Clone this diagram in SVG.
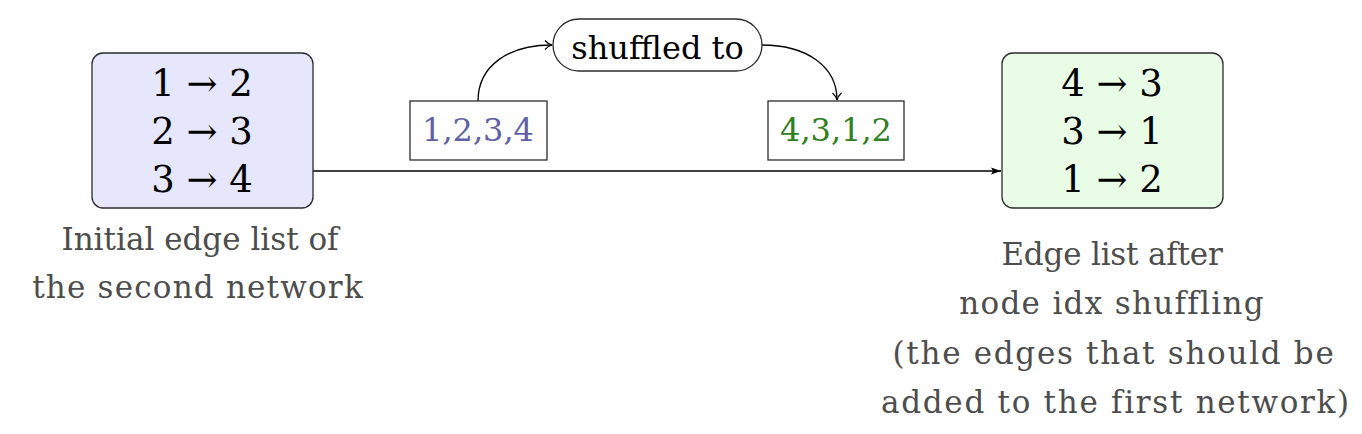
<svg xmlns="http://www.w3.org/2000/svg" width="1362" height="434" viewBox="0 0 1362 434">
<style>
  text { font-family: "DejaVu Serif", "Liberation Serif", serif; }
  .box { stroke: #2b2b2b; stroke-width: 1.3; }
  .lst { font-size: 37px; fill: #000; text-anchor: middle; }
  .cap { font-size: 31px; fill: #4d4d4d; text-anchor: middle; }
  .conn { fill: none; stroke: #000; stroke-width: 1.3; }
</style>
<defs>
  <marker id="open" markerWidth="12" markerHeight="12" refX="9" refY="6" orient="auto" markerUnits="userSpaceOnUse">
    <path d="M2,1.5 Q5,5 9,6 Q5,7 2,10.5" fill="none" stroke="#000" stroke-width="1.2"/>
  </marker>
  <marker id="solid" markerWidth="12" markerHeight="12" refX="10" refY="6" orient="auto" markerUnits="userSpaceOnUse">
    <path d="M0,2.5 L10,6 L0,9.5 L2,6 Z" fill="#000"/>
  </marker>
</defs>

<g id="connectors">
  <path class="conn" d="M313,171 L1001,171" marker-end="url(#solid)"/>
  <path class="conn" d="M478,101 C478,66 508,45 552,45" marker-end="url(#open)"/>
  <path class="conn" d="M762,45 C806,45 837,66 837,100" marker-end="url(#open)"/>
</g>

<g id="initial">
  <rect class="box" x="92" y="53" width="221" height="155" rx="11" fill="#e6e6fc"/>
  <text class="lst" x="202" y="96">1 → 2</text>
  <text class="lst" x="202" y="144">2 → 3</text>
  <text class="lst" x="202" y="192">3 → 4</text>
</g>

<g id="shuffled">
  <rect class="box" x="1002" y="53" width="221" height="155" rx="11" fill="#e8fce6"/>
  <text class="lst" x="1112" y="96">4 → 3</text>
  <text class="lst" x="1112" y="144">3 → 1</text>
  <text class="lst" x="1112" y="192">1 → 2</text>
</g>

<g id="orig-order">
  <rect class="box" x="410" y="101" width="137" height="59" fill="#fff"/>
  <text x="478" y="141" font-size="32" fill="#6060a8" text-anchor="middle">1,2,3,4</text>
</g>

<g id="new-order">
  <rect class="box" x="768" y="101" width="136" height="59" fill="#fff"/>
  <text x="836" y="141" font-size="32" fill="#2f7f1f" text-anchor="middle">4,3,1,2</text>
</g>

<g id="shuffled-to">
  <rect class="box" x="553" y="19" width="209" height="52" rx="26" fill="#fff"/>
  <text x="657.5" y="59" font-size="32" fill="#000" text-anchor="middle">shuffled to</text>
</g>

<g id="caption-left">
  <text class="cap" x="200" y="250">Initial edge list of</text>
  <text class="cap" x="198" y="298" letter-spacing="1.2">the second network</text>
</g>

<g id="caption-right">
  <text class="cap" x="1112" y="265" letter-spacing="-0.2">Edge list after</text>
  <text class="cap" x="1112" y="314" letter-spacing="1.3">node idx shuffling</text>
  <text class="cap" x="1114" y="364" letter-spacing="1.7">(the edges that should be</text>
  <text class="cap" x="1116" y="413" letter-spacing="1.7">added to the first network)</text>
</g>
</svg>
